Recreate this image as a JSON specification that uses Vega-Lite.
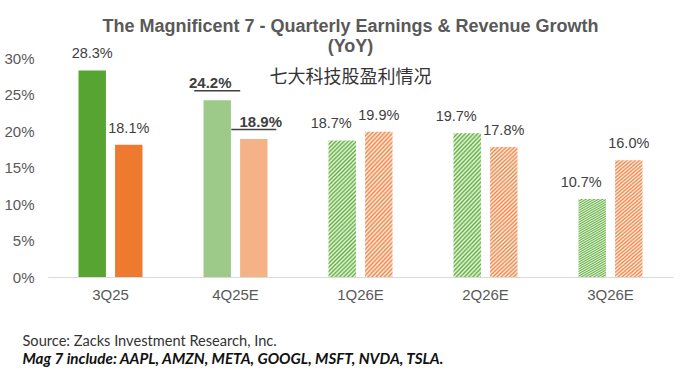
{
  "$schema": "https://vega.github.io/schema/vega-lite/v6.json",
  "width": 625,
  "height": 219,
  "autosize": {"type": "none"},
  "padding": {"left": 48, "top": 58, "right": 19, "bottom": 93},
  "background": "white",
  "config": {"view": {"stroke": null}, "font": "Liberation Sans"},
  "title": {
    "text": ["The Magnificent 7 - Quarterly Earnings & Revenue Growth", "(YoY)"],
    "subtitle": "七大科技股盈利情况",
    "anchor": "middle",
    "dx": -10,
    "font": "Liberation Sans",
    "fontSize": 18,
    "fontWeight": "bold",
    "color": "#595959",
    "lineHeight": 20,
    "subtitleFont": "Noto Sans CJK SC",
    "subtitleFontSize": 18,
    "subtitleColor": "#333333",
    "subtitlePadding": 13,
    "offset": -41
  },
  "data": {
    "values": [
      {"quarter": "3Q25", "metric": "Earnings", "status": "Actual", "value": 0.283},
      {"quarter": "3Q25", "metric": "Revenue", "status": "Actual", "value": 0.181},
      {"quarter": "4Q25E", "metric": "Earnings", "status": "Estimate", "value": 0.242},
      {"quarter": "4Q25E", "metric": "Revenue", "status": "Estimate", "value": 0.189},
      {"quarter": "1Q26E", "metric": "Earnings", "status": "Estimate", "value": 0.187},
      {"quarter": "1Q26E", "metric": "Revenue", "status": "Estimate", "value": 0.199},
      {"quarter": "2Q26E", "metric": "Earnings", "status": "Estimate", "value": 0.197},
      {"quarter": "2Q26E", "metric": "Revenue", "status": "Estimate", "value": 0.178},
      {"quarter": "3Q26E", "metric": "Earnings", "status": "Estimate", "value": 0.107},
      {"quarter": "3Q26E", "metric": "Revenue", "status": "Estimate", "value": 0.160}
    ]
  },
  "encoding": {
    "y": {
      "field": "value",
      "type": "quantitative",
      "scale": {"domain": [0, 0.3], "nice": false},
      "axis": {
        "title": null,
        "values": [0, 0.05, 0.1, 0.15, 0.2, 0.25, 0.3],
        "format": ".0%",
        "grid": false,
        "ticks": false,
        "domain": false,
        "labelColor": "#595959",
        "labelFontSize": 15,
        "labelPadding": 14
      }
    },
    "xOffset": {
      "field": "metric",
      "type": "nominal",
      "sort": ["Earnings", "Revenue"],
      "scale": {"paddingInner": 0.25, "paddingOuter": 0}
    }
  },
  "layer": [
    {
      "transform": [{"filter": "datum.quarter === '3Q25' || datum.quarter === '4Q25E'"}],
      "mark": {"type": "bar"},
      "encoding": {
        "x": {
          "field": "quarter",
          "type": "nominal",
          "sort": ["3Q25", "4Q25E", "1Q26E", "2Q26E", "3Q26E"],
          "scale": {"domain": ["3Q25", "4Q25E", "1Q26E", "2Q26E", "3Q26E"], "paddingInner": 0.488, "paddingOuter": 0.244},
          "axis": {
            "orient": "bottom",
            "title": "Source: Zacks Investment Research, Inc.",
            "labelAngle": 0,
            "ticks": false,
            "grid": false,
            "domainColor": "#d9d9d9",
            "domainWidth": 1,
            "labelColor": "#595959",
            "labelFontSize": 15,
            "labelPadding": 10,
            "titleFont": "Lato",
            "titleFontSize": 14.6,
            "titleFontWeight": "normal",
            "titleColor": "#333333",
            "titleAlign": "left",
            "titleAnchor": "start",
            "titleX": -26,
            "titleY": 68,
            "titleBaseline": "alphabetic"
          }
        },
        "color": {
          "field": "metric",
          "type": "nominal",
          "scale": {"domain": ["Earnings", "Revenue"], "range": ["#57a432", "#ee7a30"]},
          "legend": null
        },
        "fillOpacity": {
          "field": "status",
          "type": "nominal",
          "scale": {"domain": ["Actual", "Estimate"], "range": [1, 0.58]},
          "legend": null
        }
      }
    },
    {
      "transform": [{"filter": "datum.quarter !== '3Q25' && datum.quarter !== '4Q25E' && datum.metric === 'Earnings'"}],
      "mark": {
        "type": "bar",
        "fill": {
          "gradient": "linear", "x1": 0, "y1": 0, "x2": 0.231, "y2": 1.154,
          "stops": [
            {"offset":0,"color":"#5fae3a"},{"offset":0.0125,"color":"#eef7e8"},{"offset":0.025,"color":"#5fae3a"},{"offset":0.0375,"color":"#eef7e8"},
            {"offset":0.05,"color":"#5fae3a"},{"offset":0.0625,"color":"#eef7e8"},{"offset":0.075,"color":"#5fae3a"},{"offset":0.0875,"color":"#eef7e8"},
            {"offset":0.1,"color":"#5fae3a"},{"offset":0.1125,"color":"#eef7e8"},{"offset":0.125,"color":"#5fae3a"},{"offset":0.1375,"color":"#eef7e8"},
            {"offset":0.15,"color":"#5fae3a"},{"offset":0.1625,"color":"#eef7e8"},{"offset":0.175,"color":"#5fae3a"},{"offset":0.1875,"color":"#eef7e8"},
            {"offset":0.2,"color":"#5fae3a"},{"offset":0.2125,"color":"#eef7e8"},{"offset":0.225,"color":"#5fae3a"},{"offset":0.2375,"color":"#eef7e8"},
            {"offset":0.25,"color":"#5fae3a"},{"offset":0.2625,"color":"#eef7e8"},{"offset":0.275,"color":"#5fae3a"},{"offset":0.2875,"color":"#eef7e8"},
            {"offset":0.3,"color":"#5fae3a"},{"offset":0.3125,"color":"#eef7e8"},{"offset":0.325,"color":"#5fae3a"},{"offset":0.3375,"color":"#eef7e8"},
            {"offset":0.35,"color":"#5fae3a"},{"offset":0.3625,"color":"#eef7e8"},{"offset":0.375,"color":"#5fae3a"},{"offset":0.3875,"color":"#eef7e8"},
            {"offset":0.4,"color":"#5fae3a"},{"offset":0.4125,"color":"#eef7e8"},{"offset":0.425,"color":"#5fae3a"},{"offset":0.4375,"color":"#eef7e8"},
            {"offset":0.45,"color":"#5fae3a"},{"offset":0.4625,"color":"#eef7e8"},{"offset":0.475,"color":"#5fae3a"},{"offset":0.4875,"color":"#eef7e8"},
            {"offset":0.5,"color":"#5fae3a"},{"offset":0.5125,"color":"#eef7e8"},{"offset":0.525,"color":"#5fae3a"},{"offset":0.5375,"color":"#eef7e8"},
            {"offset":0.55,"color":"#5fae3a"},{"offset":0.5625,"color":"#eef7e8"},{"offset":0.575,"color":"#5fae3a"},{"offset":0.5875,"color":"#eef7e8"},
            {"offset":0.6,"color":"#5fae3a"},{"offset":0.6125,"color":"#eef7e8"},{"offset":0.625,"color":"#5fae3a"},{"offset":0.6375,"color":"#eef7e8"},
            {"offset":0.65,"color":"#5fae3a"},{"offset":0.6625,"color":"#eef7e8"},{"offset":0.675,"color":"#5fae3a"},{"offset":0.6875,"color":"#eef7e8"},
            {"offset":0.7,"color":"#5fae3a"},{"offset":0.7125,"color":"#eef7e8"},{"offset":0.725,"color":"#5fae3a"},{"offset":0.7375,"color":"#eef7e8"},
            {"offset":0.75,"color":"#5fae3a"},{"offset":0.7625,"color":"#eef7e8"},{"offset":0.775,"color":"#5fae3a"},{"offset":0.7875,"color":"#eef7e8"},
            {"offset":0.8,"color":"#5fae3a"},{"offset":0.8125,"color":"#eef7e8"},{"offset":0.825,"color":"#5fae3a"},{"offset":0.8375,"color":"#eef7e8"},
            {"offset":0.85,"color":"#5fae3a"},{"offset":0.8625,"color":"#eef7e8"},{"offset":0.875,"color":"#5fae3a"},{"offset":0.8875,"color":"#eef7e8"},
            {"offset":0.9,"color":"#5fae3a"},{"offset":0.9125,"color":"#eef7e8"},{"offset":0.925,"color":"#5fae3a"},{"offset":0.9375,"color":"#eef7e8"},
            {"offset":0.95,"color":"#5fae3a"},{"offset":0.9625,"color":"#eef7e8"},{"offset":0.975,"color":"#5fae3a"},{"offset":0.9875,"color":"#eef7e8"},
            {"offset":1,"color":"#5fae3a"}
          ]
        }
      },
      "encoding": {
        "x": {"field": "quarter", "type": "nominal", "sort": ["3Q25", "4Q25E", "1Q26E", "2Q26E", "3Q26E"], "axis": null}
      }
    },
    {
      "transform": [{"filter": "datum.quarter !== '3Q25' && datum.quarter !== '4Q25E' && datum.metric === 'Revenue'"}],
      "mark": {
        "type": "bar",
        "fill": {
          "gradient": "linear", "x1": 0, "y1": 0, "x2": 0.231, "y2": 1.154,
          "stops": [
            {"offset":0,"color":"#ef8545"},{"offset":0.0125,"color":"#fef0e6"},{"offset":0.025,"color":"#ef8545"},{"offset":0.0375,"color":"#fef0e6"},
            {"offset":0.05,"color":"#ef8545"},{"offset":0.0625,"color":"#fef0e6"},{"offset":0.075,"color":"#ef8545"},{"offset":0.0875,"color":"#fef0e6"},
            {"offset":0.1,"color":"#ef8545"},{"offset":0.1125,"color":"#fef0e6"},{"offset":0.125,"color":"#ef8545"},{"offset":0.1375,"color":"#fef0e6"},
            {"offset":0.15,"color":"#ef8545"},{"offset":0.1625,"color":"#fef0e6"},{"offset":0.175,"color":"#ef8545"},{"offset":0.1875,"color":"#fef0e6"},
            {"offset":0.2,"color":"#ef8545"},{"offset":0.2125,"color":"#fef0e6"},{"offset":0.225,"color":"#ef8545"},{"offset":0.2375,"color":"#fef0e6"},
            {"offset":0.25,"color":"#ef8545"},{"offset":0.2625,"color":"#fef0e6"},{"offset":0.275,"color":"#ef8545"},{"offset":0.2875,"color":"#fef0e6"},
            {"offset":0.3,"color":"#ef8545"},{"offset":0.3125,"color":"#fef0e6"},{"offset":0.325,"color":"#ef8545"},{"offset":0.3375,"color":"#fef0e6"},
            {"offset":0.35,"color":"#ef8545"},{"offset":0.3625,"color":"#fef0e6"},{"offset":0.375,"color":"#ef8545"},{"offset":0.3875,"color":"#fef0e6"},
            {"offset":0.4,"color":"#ef8545"},{"offset":0.4125,"color":"#fef0e6"},{"offset":0.425,"color":"#ef8545"},{"offset":0.4375,"color":"#fef0e6"},
            {"offset":0.45,"color":"#ef8545"},{"offset":0.4625,"color":"#fef0e6"},{"offset":0.475,"color":"#ef8545"},{"offset":0.4875,"color":"#fef0e6"},
            {"offset":0.5,"color":"#ef8545"},{"offset":0.5125,"color":"#fef0e6"},{"offset":0.525,"color":"#ef8545"},{"offset":0.5375,"color":"#fef0e6"},
            {"offset":0.55,"color":"#ef8545"},{"offset":0.5625,"color":"#fef0e6"},{"offset":0.575,"color":"#ef8545"},{"offset":0.5875,"color":"#fef0e6"},
            {"offset":0.6,"color":"#ef8545"},{"offset":0.6125,"color":"#fef0e6"},{"offset":0.625,"color":"#ef8545"},{"offset":0.6375,"color":"#fef0e6"},
            {"offset":0.65,"color":"#ef8545"},{"offset":0.6625,"color":"#fef0e6"},{"offset":0.675,"color":"#ef8545"},{"offset":0.6875,"color":"#fef0e6"},
            {"offset":0.7,"color":"#ef8545"},{"offset":0.7125,"color":"#fef0e6"},{"offset":0.725,"color":"#ef8545"},{"offset":0.7375,"color":"#fef0e6"},
            {"offset":0.75,"color":"#ef8545"},{"offset":0.7625,"color":"#fef0e6"},{"offset":0.775,"color":"#ef8545"},{"offset":0.7875,"color":"#fef0e6"},
            {"offset":0.8,"color":"#ef8545"},{"offset":0.8125,"color":"#fef0e6"},{"offset":0.825,"color":"#ef8545"},{"offset":0.8375,"color":"#fef0e6"},
            {"offset":0.85,"color":"#ef8545"},{"offset":0.8625,"color":"#fef0e6"},{"offset":0.875,"color":"#ef8545"},{"offset":0.8875,"color":"#fef0e6"},
            {"offset":0.9,"color":"#ef8545"},{"offset":0.9125,"color":"#fef0e6"},{"offset":0.925,"color":"#ef8545"},{"offset":0.9375,"color":"#fef0e6"},
            {"offset":0.95,"color":"#ef8545"},{"offset":0.9625,"color":"#fef0e6"},{"offset":0.975,"color":"#ef8545"},{"offset":0.9875,"color":"#fef0e6"},
            {"offset":1,"color":"#ef8545"}
          ]
        }
      },
      "encoding": {
        "x": {"field": "quarter", "type": "nominal", "sort": ["3Q25", "4Q25E", "1Q26E", "2Q26E", "3Q26E"], "axis": null}
      }
    },
    {
      "transform": [{"filter": "datum.quarter !== '4Q25E' && (datum.status === 'Actual' || datum.metric === 'Revenue')"}],
      "mark": {"type": "text", "baseline": "alphabetic", "dy": -12, "fontSize": 14.5, "color": "#404040"},
      "encoding": {
        "x": {"field": "quarter", "type": "nominal", "sort": ["3Q25", "4Q25E", "1Q26E", "2Q26E", "3Q26E"], "axis": null},
        "text": {"field": "value", "type": "quantitative", "format": ".1%"}
      }
    },
    {
      "transform": [{"filter": "datum.quarter !== '4Q25E' && datum.status === 'Estimate' && datum.metric === 'Earnings'"}],
      "mark": {"type": "text", "baseline": "alphabetic", "dy": -12, "dx": -11, "fontSize": 14.5, "color": "#404040"},
      "encoding": {
        "x": {"field": "quarter", "type": "nominal", "sort": ["3Q25", "4Q25E", "1Q26E", "2Q26E", "3Q26E"], "axis": null},
        "text": {"field": "value", "type": "quantitative", "format": ".1%"}
      }
    },
    {
      "transform": [{"filter": "datum.quarter === '4Q25E' && datum.metric === 'Earnings'"}],
      "mark": {"type": "text", "baseline": "alphabetic", "dy": -12.5, "dx": -7, "fontSize": 15, "fontWeight": "bold", "color": "#404040"},
      "encoding": {
        "x": {"field": "quarter", "type": "nominal", "sort": ["3Q25", "4Q25E", "1Q26E", "2Q26E", "3Q26E"], "axis": null},
        "text": {"field": "value", "type": "quantitative", "format": ".1%"}
      }
    },
    {
      "transform": [{"filter": "datum.quarter === '4Q25E' && datum.metric === 'Revenue'"}],
      "mark": {"type": "text", "baseline": "alphabetic", "dy": -12.5, "dx": 7, "fontSize": 15, "fontWeight": "bold", "color": "#404040"},
      "encoding": {
        "x": {"field": "quarter", "type": "nominal", "sort": ["3Q25", "4Q25E", "1Q26E", "2Q26E", "3Q26E"], "axis": null},
        "text": {"field": "value", "type": "quantitative", "format": ".1%"}
      }
    },
    {
      "transform": [{"filter": "datum.quarter === '4Q25E' && datum.metric === 'Earnings'"}],
      "mark": {"type": "tick", "yOffset": -9.5, "xOffset": -7, "thickness": 1.5, "size": 46, "color": "#404040", "opacity": 1},
      "encoding": {
        "x": {"field": "quarter", "type": "nominal", "sort": ["3Q25", "4Q25E", "1Q26E", "2Q26E", "3Q26E"], "axis": null}
      }
    },
    {
      "transform": [{"filter": "datum.quarter === '4Q25E' && datum.metric === 'Revenue'"}],
      "mark": {"type": "tick", "yOffset": -9.5, "xOffset": 7, "thickness": 1.5, "size": 45, "color": "#404040", "opacity": 1},
      "encoding": {
        "x": {
          "field": "quarter",
          "type": "nominal",
          "sort": ["3Q25", "4Q25E", "1Q26E", "2Q26E", "3Q26E"],
          "axis": {
            "orient": "bottom",
            "labels": false,
            "ticks": false,
            "domain": false,
            "grid": false,
            "title": "Mag 7 include: AAPL, AMZN, META, GOOGL, MSFT, NVDA, TSLA.",
            "titleFont": "Lato",
            "titleFontSize": 15.2,
            "titleFontWeight": "bold",
            "titleFontStyle": "italic",
            "titleColor": "#111111",
            "titleAlign": "left",
            "titleAnchor": "start",
            "titleX": -26,
            "titleY": 86,
            "titleBaseline": "alphabetic"
          }
        }
      }
    }
  ],
  "resolve": {"axis": {"x": "independent"}}
}
